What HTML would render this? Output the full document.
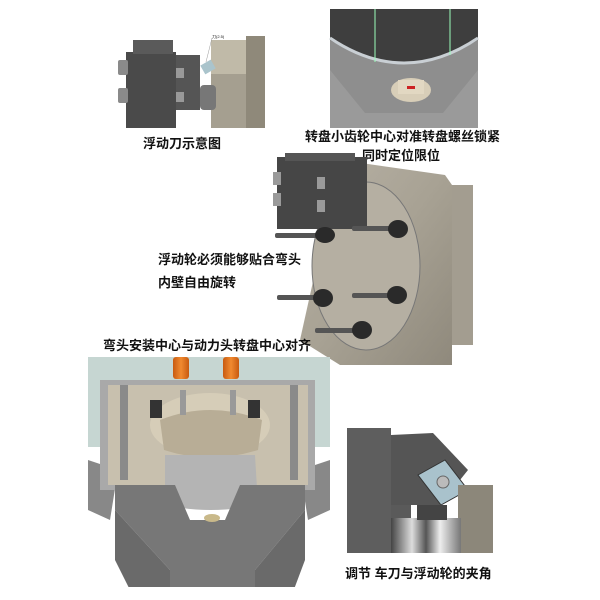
<!DOCTYPE html>
<html><head><meta charset="utf-8"><style>
body{margin:0;background:#fff;}
svg{display:block;}
text{font-family:"Liberation Sans","Noto Sans CJK SC",sans-serif;font-weight:bold;font-size:13px;fill:#111;}
</style></head><body>
<svg width="600" height="600" viewBox="0 0 600 600" xmlns="http://www.w3.org/2000/svg">
<defs>
<linearGradient id="beige" x1="0" y1="0" x2="1" y2="1"><stop offset="0" stop-color="#b8b2a6"/><stop offset="0.5" stop-color="#a8a294"/><stop offset="1" stop-color="#8f897c"/></linearGradient>
<linearGradient id="cyl" x1="0" y1="0" x2="1" y2="0"><stop offset="0" stop-color="#444"/><stop offset="0.3" stop-color="#ddd"/><stop offset="0.5" stop-color="#555"/><stop offset="0.7" stop-color="#eee"/><stop offset="1" stop-color="#777"/></linearGradient>
<linearGradient id="org" x1="0" y1="0" x2="1" y2="0"><stop offset="0" stop-color="#c85a10"/><stop offset="0.5" stop-color="#f08a30"/><stop offset="1" stop-color="#c85a10"/></linearGradient>
<clipPath id="bl"><rect x="88" y="357" width="242" height="230"/></clipPath>
</defs>

<!-- Top-left floating tool -->
<rect x="211" y="40" width="54" height="88" fill="#c0baa8"/>
<rect x="211" y="74" width="54" height="54" fill="#a59f90"/>
<rect x="246" y="36" width="19" height="92" fill="#8f897a"/>
<rect x="126" y="52" width="50" height="76" fill="#4a4a4a"/>
<rect x="176" y="55" width="24" height="55" fill="#555"/>
<rect x="133" y="40" width="40" height="14" fill="#5a5a5a"/>
<rect x="200" y="85" width="16" height="25" fill="#777" rx="4"/>
<rect x="118" y="60" width="10" height="15" fill="#8a8a8a" rx="2"/>
<rect x="118" y="88" width="10" height="15" fill="#8a8a8a" rx="2"/>
<rect x="176" y="68" width="8" height="10" fill="#999"/>
<rect x="176" y="92" width="8" height="10" fill="#999"/>
<rect x="202" y="62" width="12" height="10" fill="#aac4cc" transform="rotate(-30 208 67)"/>
<line x1="212" y1="38" x2="206" y2="62" stroke="#999" stroke-width="0.5"/>
<text x="212" y="38" style="font-size:4px;font-weight:normal">刀(2.5)</text>
<text x="143" y="148">浮动刀示意图</text>

<!-- Top-right turntable -->
<rect x="330" y="9" width="148" height="119" fill="#8e8e8e"/>
<path d="M330,9 H478 V40 Q404,85 330,40 Z" fill="#3e3e3e"/>
<path d="M330,38 Q404,88 478,38" fill="none" stroke="#c9cfd4" stroke-width="3"/>
<line x1="375" y1="9" x2="375" y2="62" stroke="#9fb" stroke-width="1"/>
<line x1="450" y1="9" x2="450" y2="55" stroke="#9fb" stroke-width="1"/>
<path d="M330,70 L365,113 H443 L478,70 V128 H330 Z" fill="#9a9a9a"/>
<ellipse cx="411" cy="90" rx="20" ry="12" fill="#d8ceb8"/>
<rect x="398" y="80" width="26" height="14" fill="#e2d8c2"/>
<rect x="407" y="86" width="8" height="3" fill="#c22"/>
<text x="305" y="141">转盘小齿轮中心对准转盘螺丝锁紧</text>
<text x="362" y="160">同时定位限位</text>

<!-- Middle-right elbow -->
<rect x="450" y="185" width="23" height="160" fill="#a39d90"/>
<path d="M340,160 L445,175 L452,185 V365 L340,365 L300,340 Z" fill="url(#beige)"/>
<ellipse cx="366" cy="266" rx="54" ry="84" fill="#b5afa2" stroke="#777" stroke-width="1"/>
<rect x="277" y="157" width="90" height="72" fill="#464646"/>
<rect x="285" y="153" width="70" height="8" fill="#555"/>
<rect x="273" y="172" width="8" height="13" fill="#9a9a9a"/>
<rect x="273" y="193" width="8" height="13" fill="#9a9a9a"/>
<rect x="317" y="177" width="8" height="12" fill="#9a9a9a"/>
<rect x="317" y="200" width="8" height="12" fill="#9a9a9a"/>
<g fill="#2a2a2a">
<rect x="275" y="233" width="50" height="5" rx="2" fill="#555"/><ellipse cx="325" cy="235" rx="10" ry="8"/>
<rect x="352" y="226" width="50" height="5" rx="2" fill="#555"/><ellipse cx="398" cy="229" rx="10" ry="9"/>
<rect x="277" y="295" width="50" height="5" rx="2" fill="#555"/><ellipse cx="323" cy="298" rx="10" ry="9"/>
<rect x="352" y="293" width="50" height="5" rx="2" fill="#555"/><ellipse cx="397" cy="295" rx="10" ry="9"/>
<rect x="315" y="328" width="45" height="5" rx="2" fill="#555"/><ellipse cx="362" cy="330" rx="10" ry="9"/>
</g>
<text x="158" y="264">浮动轮必须能够贴合弯头</text>
<text x="158" y="287">内壁自由旋转</text>

<!-- Bottom-left fixture -->
<text x="103" y="350">弯头安装中心与动力头转盘中心对齐</text>
<g clip-path="url(#bl)">
<rect x="88" y="357" width="242" height="90" fill="#c6d6d2"/>
<rect x="173" y="357" width="16" height="22" fill="url(#org)" rx="3"/>
<rect x="223" y="357" width="16" height="22" fill="url(#org)" rx="3"/>
<path d="M88,460 L88,510 L110,520 L118,470 Z" fill="#888"/>
<path d="M330,460 L330,510 L308,520 L300,470 Z" fill="#888"/>
<rect x="100" y="380" width="215" height="110" fill="#a9a9a9"/>
<rect x="108" y="385" width="200" height="100" fill="#c8c0ae"/>
<ellipse cx="210" cy="425" rx="60" ry="32" fill="#d6cdb8"/>
<path d="M160,420 Q210,400 262,420 L258,450 Q210,465 164,450 Z" fill="#b8ad96"/>
<rect x="180" y="390" width="6" height="25" fill="#999"/>
<rect x="230" y="390" width="6" height="25" fill="#999"/>
<rect x="150" y="400" width="12" height="18" fill="#333"/>
<rect x="248" y="400" width="12" height="18" fill="#333"/>
<rect x="120" y="385" width="8" height="95" fill="#8a8a8a"/>
<rect x="290" y="385" width="8" height="95" fill="#8a8a8a"/>
<path d="M165,455 L255,455 L258,505 Q210,515 165,505 Z" fill="#b4b4b4"/>
<path d="M115,485 L175,485 L190,520 L225,520 L240,485 L305,485 L305,510 L255,570 L255,600 L170,600 L170,570 L115,510 Z" fill="#777"/>
<path d="M115,510 L170,570 L170,600 L135,600 L115,560 Z" fill="#6a6a6a"/>
<path d="M305,510 L255,570 L255,600 L290,600 L305,560 Z" fill="#6a6a6a"/>
<ellipse cx="212" cy="518" rx="8" ry="4" fill="#c9b98a"/>
</g>

<!-- Bottom-right tool angle -->
<rect x="347" y="428" width="44" height="125" fill="#5e5e5e"/>
<path d="M391,435 L433,433 L468,470 L440,505 L391,505 Z" fill="#555"/>
<rect x="391" y="505" width="20" height="48" fill="#5a5a5a"/>
<path d="M418,470 L445,455 L468,485 L441,500 Z" fill="#a9c2cc" stroke="#333" stroke-width="1" transform="translate(0 5)"/>
<circle cx="443" cy="482" r="6" fill="#bbb" stroke="#666"/>
<rect x="458" y="485" width="35" height="68" fill="#8c877a"/>
<rect x="391" y="518" width="70" height="35" fill="url(#cyl)"/>
<rect x="417" y="505" width="30" height="15" fill="#444"/>
<text x="345" y="578">调节 车刀与浮动轮的夹角</text>
</svg>
</body></html>
